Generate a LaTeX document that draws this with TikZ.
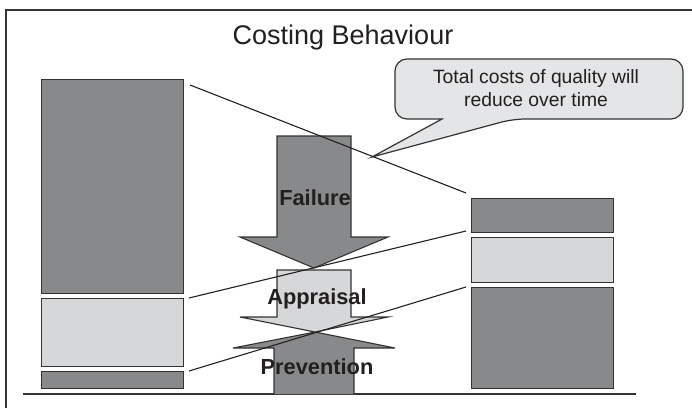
\documentclass[tikz,border=0pt]{standalone}
\usepackage{fontspec}
\setmainfont{Liberation Sans}
\definecolor{darkfill}{HTML}{88898B}
\definecolor{lightfill}{HTML}{D6D7D9}
\definecolor{calloutfill}{HTML}{E4E5E6}
\definecolor{ink}{HTML}{333333}
\definecolor{txt}{HTML}{231F20}
\tikzset{
  box/.style={draw=ink, line width=1.4pt, inner sep=0pt, anchor=north west, minimum width=142},
  darkbox/.style={box, fill=darkfill},
  lightbox/.style={box, fill=lightfill},
  conn/.style={draw=txt, line width=1.1pt},
  arrowshape/.style={draw=ink, line width=1.1pt, line join=miter},
  lbl/.style={font=\fontsize{21.8}{24}\selectfont\bfseries, text=txt, inner sep=0pt},
}
\begin{document}
\begin{tikzpicture}[x=1pt, y=-1pt]
\useasboundingbox (0,0) rectangle (692,408);
% frame
\draw[ink, line width=1.4pt] (6,408) -- (6,10) -- (692,10);
% title
\node[font=\fontsize{27}{31}\selectfont, text=txt, inner sep=0pt] (title) at (343,38) {Costing Behaviour};
% left column
\node[darkbox, minimum height=214] (Lf) at (41,79) {};
\node[lightbox, minimum height=68] (La) at (41,298) {};
\node[darkbox, minimum height=17] (Lp) at (41,371) {};
% right column
\node[darkbox, minimum height=34] (Rf) at (471,198) {};
\node[lightbox, minimum height=45] (Ra) at (471,237) {};
\node[darkbox, minimum height=101] (Rp) at (471,287) {};
% baseline
\coordinate (b1) at (23,394);
\coordinate (b2) at (636,394);
\draw[ink, line width=1.4pt] (b1) -- (b2);
% central arrows
\path[arrowshape, fill=darkfill] (274,394) -- (274,348) -- (233,348) -- (315,332) -- (395,348) -- (354,348) -- (354,394);
\path[arrowshape, fill=lightfill] (277,270) -- (351,270) -- (351,317) -- (388,317) -- (315,332) -- (240,317) -- (277,317) -- cycle;
\path[arrowshape, fill=darkfill] (277,136) -- (351,136) -- (351,237) -- (388,237) -- (314,268) -- (240,237) -- (277,237) -- cycle;
\node[lbl] (fl) at (315,198) {Failure};
\node[lbl] (al) at (317,299) {Appraisal};
\node[lbl] (pl) at (317,367) {Prevention};
% callout
\path[draw=ink, line width=1.2pt, fill=calloutfill] (442,119) [rounded corners=12] -- (395,119) -- (395,59) -- (683,59) -- (683,119) -- (513,119) [sharp corners] -- (372,157) -- cycle;
\node[font=\fontsize{19.3}{23}\selectfont, text=txt, align=center, inner sep=0pt] (ctext) at (536,88) {Total costs of quality will\\reduce over time};
% connectors
\coordinate (s1) at (190,85);
\coordinate (e1) at (466,193);
\coordinate (s2) at (189,298);
\coordinate (e2) at (466,231);
\coordinate (s3) at (189,371);
\coordinate (e3) at (466,287);
\draw[conn] (s1) -- (e1);
\draw[conn] (s2) -- (e2);
\draw[conn] (s3) -- (e3);
\end{tikzpicture}
\end{document}
